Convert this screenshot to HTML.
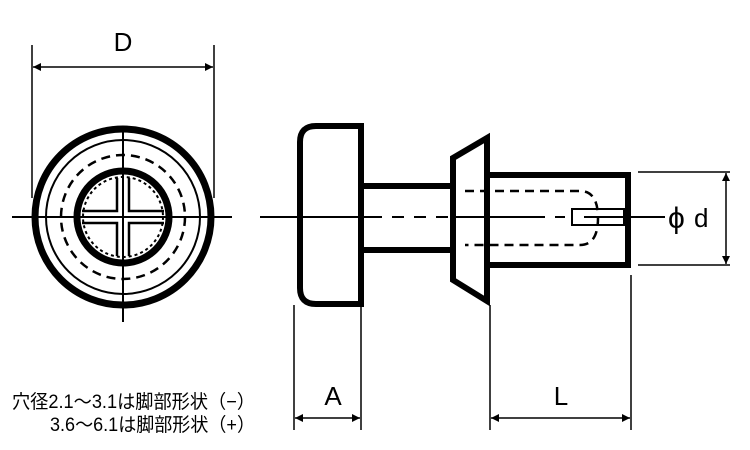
<!DOCTYPE html><html><head><meta charset="utf-8"><style>body{margin:0;background:#fff}svg{display:block}</style></head><body>
<svg width="750" height="450" viewBox="0 0 750 450" xmlns="http://www.w3.org/2000/svg" font-family="Liberation Sans, Noto Sans CJK JP, sans-serif">
<defs><marker id="ar" viewBox="0 0 10 10" refX="10" refY="5" markerWidth="14" markerHeight="8" markerUnits="userSpaceOnUse" orient="auto-start-reverse"><path d="M0,0L10,5L0,10z" fill="#000"/></marker></defs>
<g fill="none" stroke="#000">
<circle cx="123" cy="217" r="88" stroke-width="7"/>
<circle cx="123" cy="217" r="77" stroke-width="2"/>
<circle cx="123" cy="217" r="62" stroke-width="2.5" stroke-dasharray="9 6"/>
<circle cx="123" cy="217" r="46" stroke-width="7"/>
<circle cx="123" cy="217" r="40" stroke-width="2" stroke-dasharray="3 3"/>
<path d="M117,178V211H82M129,178V211H164M117,256V223H82M129,256V223H164" stroke-width="2.5"/>
<path d="M12,217H232M123,130V322" stroke-width="2"/>
<path d="M32,45V198M214,45V198" stroke-width="1.5"/>
<line x1="33" y1="67" x2="213" y2="67" stroke-width="1.5" marker-start="url(#ar)" marker-end="url(#ar)"/>
<path d="M361,126H316Q300,126 300,142V288Q300,304 316,304H361Z" stroke-width="6"/>
<path d="M361,186H452M361,250H452" stroke-width="6"/>
<path d="M453,158L487,138V301L453,280Z" stroke-width="6"/>
<path d="M487,175H628V265H487" stroke-width="6"/>
<path d="M465,191H580Q598,191 598,218Q598,245 580,245H465" stroke-width="2.5" stroke-dasharray="9 6"/>
<rect x="572" y="209" width="52" height="16" stroke-width="2"/>
<path d="M260,217H382M392,217H404M414,217H426M436,217H448M452,217H545M555,217H565M584,217H624M628,217H665" stroke-width="2"/>
<path d="M638,172H730M638,265H730" stroke-width="1.5"/>
<line x1="726" y1="173" x2="726" y2="264" stroke-width="1.5" marker-start="url(#ar)" marker-end="url(#ar)"/>
<path d="M294,305V430M361,305V430M490,305V430M631,275V430" stroke-width="1.5"/>
<line x1="295" y1="418" x2="360" y2="418" stroke-width="1.5" marker-start="url(#ar)" marker-end="url(#ar)"/>
<line x1="491" y1="418" x2="630" y2="418" stroke-width="1.5" marker-start="url(#ar)" marker-end="url(#ar)"/>
</g>
<g font-size="26" fill="#000">
<text x="123" y="51" text-anchor="middle">D</text>
<text x="333" y="405" text-anchor="middle">A</text>
<text x="561" y="405" text-anchor="middle">L</text>
<text x="668" y="228" font-size="30">ϕ</text><text x="694" y="227">d</text>
</g>
<g font-size="19" fill="#000">
<text x="12" y="408" textLength="243" lengthAdjust="spacingAndGlyphs">穴径2.1～3.1は脚部形状（−）</text>
<text x="50" y="431" textLength="205" lengthAdjust="spacingAndGlyphs">3.6～6.1は脚部形状（+）</text>
</g>
</svg></body></html>
